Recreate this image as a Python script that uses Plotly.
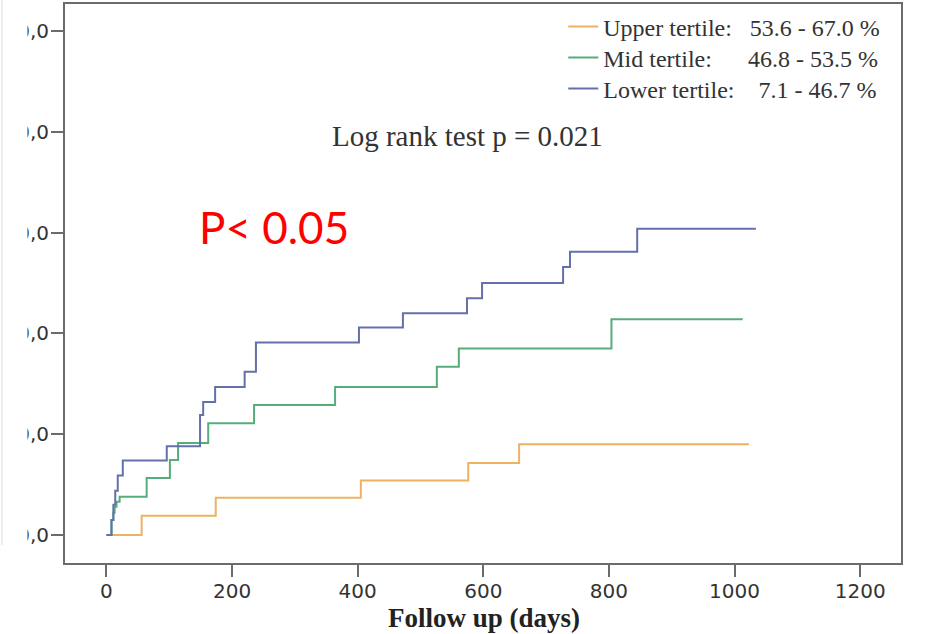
import plotly.graph_objects as go

# Cumulative incidence (%) by tertile, step changes at event days
days_upper = [0, 56, 174, 405, 576, 657, 1023]
pct_upper = [0.0, 1.9, 3.7, 5.4, 7.15, 9.0, 9.0]

days_mid = [0, 8, 11, 13, 16, 21, 64, 101, 114, 162, 235, 364, 526, 561, 804, 1013]
pct_mid = [0.0, 1.5, 2.2, 2.8, 3.3, 3.8, 5.66, 7.45, 9.14, 11.1, 12.9, 14.7, 16.7, 18.5, 21.4, 21.4]

days_lower = [0, 8, 11, 14, 18, 26, 96, 149, 154, 173, 220, 238, 402, 472, 574, 598, 727, 738, 845, 1034]
pct_lower = [0.0, 1.5, 3.0, 4.4, 5.9, 7.4, 8.8, 11.9, 13.2, 14.7, 16.2, 19.1, 20.6, 22.0, 23.5, 25.0, 26.6, 28.1, 30.4, 30.4]

NB = "\u00a0"
series_names = [
    "Upper tertile:" + NB * 3 + "53.6 - 67.0 %",
    "Mid tertile:" + NB * 6 + "46.8 - 53.5 %",
    "Lower tertile:" + NB * 4 + "7.1 - 46.7 %",
]
series_colors = ["#EDB262", "#55AE7A", "#6470AC"]

x_ticks = [0, 200, 400, 600, 800, 1000, 1200]
y_ticks = [0, 10, 20, 30, 40, 50]
y_ticktext = ["0,0", "10,0", "20,0", "30,0", "40,0", "50,0"]
x_title = "Follow up (days)"

W, H = 951, 634
ML, MR, MT, MB = 65, 50, 4, 71
pw, ph = W - ML - MR, H - MT - MB

legend_ids = ["legend", "legend2", "legend3"]
legend_rows_px = [27, 58, 89]  # row centres from the top of the page

fig = go.Figure()
for name, t, v, c, lg in zip(series_names,
                             [days_upper, days_mid, days_lower],
                             [pct_upper, pct_mid, pct_lower],
                             series_colors, legend_ids):
    fig.add_trace(go.Scatter(x=t, y=v, mode="lines", name=name, legend=lg,
                             line=dict(shape="hv", color=c, width=2)))

legend_font = dict(family="Liberation Serif, Times New Roman, serif", size=24, color="#333")
legend_layout = {}
for lg, yc in zip(legend_ids, legend_rows_px):
    legend_layout[lg] = dict(x=0.596, y=(H - MB - yc) / ph, xanchor="left", yanchor="middle",
                             bgcolor="rgba(0,0,0,0)", borderwidth=0, font=legend_font)

tick_font = dict(family="DejaVu Sans, sans-serif", size=20, color="#333")
axis_common = dict(showline=True, mirror=True, linecolor="#6b6b6b", linewidth=2,
                   ticks="outside", ticklen=12, tickwidth=1.5, tickcolor="#6b6b6b",
                   showgrid=False, zeroline=False, automargin=False, tickfont=tick_font)

fig.update_layout(
    width=W, height=H,
    margin=dict(l=ML, r=MR, t=MT, b=MB, autoexpand=False),
    template="none",
    paper_bgcolor="white", plot_bgcolor="white",
    xaxis=dict(range=[-66, 1265], tickvals=x_ticks, ticklabelstandoff=-3, **axis_common),
    yaxis=dict(range=[-2.78, 52.7], tickvals=y_ticks, ticktext=y_ticktext,
               ticklabelstandoff=-2, **axis_common),
    showlegend=True,
    annotations=[
        # x-axis title, placed below the tick labels
        dict(text="<b>" + x_title + "</b>", xref="paper", yref="paper",
             x=0.5006, y=(H - MB - 618) / ph, xanchor="center", yanchor="middle", showarrow=False,
             font=dict(family="Liberation Serif, Times New Roman, serif", size=27, color="#222")),
        dict(text="Log rank test p = 0.021", xref="paper", yref="paper",
             x=0.481, y=0.764, xanchor="center", yanchor="middle", showarrow=False,
             font=dict(family="Liberation Serif, Times New Roman, serif", size=29, color="#333")),
        dict(text="P< 0.05", xref="paper", yref="paper",
             x=0.25, y=0.601, xanchor="center", yanchor="middle", showarrow=False,
             font=dict(family="Lato, Carlito, sans-serif", size=44, color="#ff0000")),
    ],
    shapes=[
        # white band trimming the left edge of the tick labels
        dict(type="rect", xref="paper", yref="paper", layer="above",
             x0=-ML / pw, x1=(27.5 - ML) / pw, y0=-MB / ph, y1=1 + MT / ph,
             fillcolor="white", line=dict(width=0)),
        dict(type="line", xref="paper", yref="paper", layer="above",
             x0=(2 - ML) / pw, x1=(2 - ML) / pw, y0=(H - MB - 545) / ph, y1=1 + MT / ph,
             line=dict(color="#dcdcdc", width=1)),
    ],
    **legend_layout,
)

fig.write_html("out.html")
